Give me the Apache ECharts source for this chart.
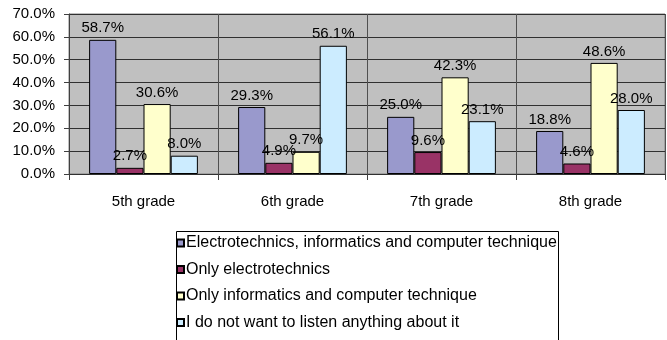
<!DOCTYPE html>
<html>
<head>
<meta charset="utf-8">
<script src="https://cdn.jsdelivr.net/npm/echarts@6/dist/echarts.min.js"></script>
<style>
html,body{margin:0;padding:0;background:#fff;}
#chart{width:667px;height:340px;}
</style>
</head>
<body>
<div id="chart"></div>
<script>
const categories = ['5th grade', '6th grade', '7th grade', '8th grade'];
const seriesNames = [
  'Electrotechnics, informatics and computer technique',
  'Only electrotechnics',
  'Only informatics and computer technique',
  'I do not want to listen anything about it'
];
const both = [58.7, 29.3, 25.0, 18.8];
const onlyElectro = [2.7, 4.9, 9.6, 4.6];
const onlyInfo = [30.6, 9.7, 42.3, 48.6];
const notWant = [8.0, 56.1, 23.1, 28.0];
const colors = ['#9999CC', '#993366', '#FFFFCC', '#CCECFF'];
const yTicks = [0, 10, 20, 30, 40, 50, 60, 70];

const font = 'Liberation Sans, Arial, sans-serif';
const chart = echarts.init(document.getElementById('chart'), null, {renderer: 'canvas'});
const dataSets = [both, onlyElectro, onlyInfo, notWant];

chart.setOption({
  animation: false,
  backgroundColor: '#ffffff',
  grid: {left: 69, right: 2, top: 14, bottom: 166, containLabel: false,
         show: true, backgroundColor: '#C0C0C0', borderColor: '#808080', borderWidth: 1},
  graphic: [{
    type: 'rect', left: 174, top: 229, z: 0,
    shape: {width: 382, height: 130},
    style: {fill: 'none', stroke: '#000', lineWidth: 1}
  }],
  legend: {
    orient: 'vertical', left: 176, top: 235,
    itemWidth: 7, itemHeight: 7, itemGap: 10.5,
    icon: 'rect',
    padding: 0,
    textStyle: {fontFamily: font, fontSize: 16, lineHeight: 16, color: '#000', padding: [0, 0, 0, -3]},
    data: seriesNames
  },
  xAxis: {
    type: 'category', data: categories,
    axisLine: {lineStyle: {color: '#303030', width: 1}},
    axisTick: {show: true, length: 6, lineStyle: {color: '#404040', width: 1}},
    axisLabel: {fontFamily: font, fontSize: 15, color: '#000', margin: 20},
    splitLine: {show: true, lineStyle: {color: '#505050', width: 1}}
  },
  yAxis: {
    type: 'value', min: 0, max: 70, interval: 10,
    axisLine: {show: true, lineStyle: {color: '#404040', width: 1}},
    axisTick: {show: true, length: 5, lineStyle: {color: '#404040'}},
    axisLabel: {fontFamily: font, fontSize: 15, color: '#000', margin: 14,
                formatter: v => v.toFixed(1) + '%'},
    splitLine: {show: true, lineStyle: {color: '#303030', width: 1}}
  },
  series: dataSets.map((d, i) => ({
    name: seriesNames[i], type: 'bar', data: d,
    barGap: '0%', barCategoryGap: '27%',
    itemStyle: {color: colors[i], borderColor: '#000', borderWidth: 1},
    label: {show: true, position: 'top', distance: 4, fontFamily: font, fontSize: 15, color: '#000',
            formatter: p => p.value.toFixed(1) + '%'}
  }))
});
</script>
</body>
</html>
